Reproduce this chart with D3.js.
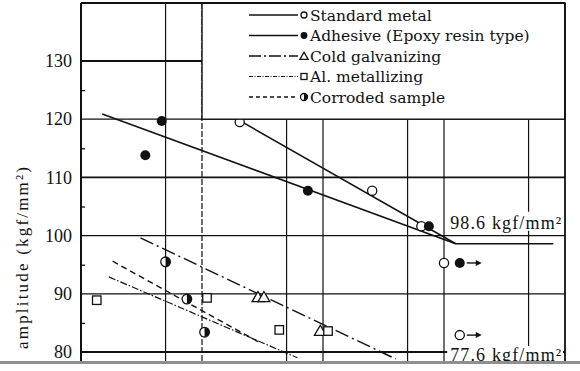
<!DOCTYPE html>
<html><head><meta charset="utf-8">
<script src="https://cdn.jsdelivr.net/npm/d3@7"></script>
<style>body{margin:0;background:#fff} svg{display:block}
.ser{font-family:'Liberation Serif','Times New Roman',Times,serif}
.ser2{font-family:'DejaVu Serif','Liberation Serif',serif}</style>
</head><body>
<svg id="c" width="580" height="371"></svg>
<script>
// ---- data ----
const yTicks = [80, 90, 100, 110, 120, 130];
const yMinor = [85, 95, 105, 115, 125];
const xGrid = [1e5, 2e5, 1e6, 2e6, 1e7, 2e7, 1e8];
const seriesNames = ["Standard metal", "Adhesive (Epoxy resin type)", "Cold galvanizing", "Al. metallizing", "Corroded sample"];
const standardPts = [[4.1e5, 119.5], [5.1e6, 107.7], [1.3e7, 101.6], [2.0e7, 95.3]];
const standardRunout = [[2.7e7, 82.9]];
const adhesivePts = [[6.8e4, 113.8], [9.3e4, 119.7], [1.5e6, 107.7], [1.5e7, 101.6]];
const adhesiveRunout = [[2.7e7, 95.3]];
const coldPts = [[5.8e5, 89.4], [6.5e5, 89.4], [1.9e6, 83.6]];
const alPts = [[2.7e4, 88.9], [2.2e5, 89.3], [8.7e5, 83.8], [2.2e6, 83.6]];
const corrodedPts = [[1.0e5, 95.5], [1.5e5, 89.1], [2.1e5, 83.4]];
const standardLine = [[2.5e5, 122.3], [2.5e7, 98.6]];
const adhesiveLine = [[3.0e4, 120.9], [2.5e7, 98.6]];
const limitLine = [[2.5e7, 98.6], [1.6e8, 98.6]];
const coldLine = [[6.2e4, 99.6], [8.0e6, 78.8]];
const alLine = [[3.4e4, 92.9], [1.23e6, 79.0]];
const corrodedLine = [[3.65e4, 95.6], [5.9e5, 81.7]];
const limitLabels = [{N: 2.25e7, S: 98.6, text: "98.6 kgf/mm\u00B2"}, {N: 2.25e7, S: 77.6, text: "77.6 kgf/mm\u00B2"}];
const yTitle = "amplitude  (kgf/mm\u00B2)";

// ---- layout ----
const svg = d3.select("#c");
const L = 81, R = 565, T = 3, B = 361;
const x = d3.scaleLog().domain([2e4, 2e8]).range([L, R]);
const y = d3.scaleLinear().domain([80, 140]).range([352, 352 - 60 * 5.82]);

svg.append("defs").append("clipPath").attr("id", "plot")
  .append("rect").attr("x", L).attr("y", T).attr("width", R - L).attr("height", B - T);

const g = svg.append("g").attr("clip-path", "url(#plot)");
const ink = "#111";

// grid
g.selectAll(".vg").data(xGrid).enter().append("line")
  .attr("x1", d => x(d)).attr("x2", d => x(d)).attr("y1", T).attr("y2", B)
  .attr("stroke", ink).attr("stroke-width", 1.2)
  .attr("stroke-dasharray", d => d === 2e5 ? "6,2" : null);
g.selectAll(".hg").data(yTicks).enter().append("line")
  .attr("x1", L).attr("x2", R).attr("y1", d => y(d)).attr("y2", d => y(d))
  .attr("stroke", ink).attr("stroke-width", d => (d === 110 || d === 130 || d === 80) ? 1.8 : 1.3);

// legend box (covers grid)
const lg = svg.append("g");
lg.append("rect").attr("x", x(2e5)).attr("y", T).attr("width", R - x(2e5)).attr("height", y(120) - T)
  .attr("fill", "#fff").attr("stroke", ink).attr("stroke-width", 1.4);

// label backgrounds
limitLabels.forEach((d, i) => {
  const by = i === 0 ? y(d.S) - 32 : y(d.S) - 20;
  g.append("rect").attr("x", x(d.N) - 3).attr("y", by).attr("width", R - x(d.N) + 1).attr("height", i === 0 ? 19 : 20)
    .attr("fill", "#fff");
});

// lines
const line = d3.line().x(d => x(d[0])).y(d => y(d[1]));
const lineDefs = [
  [standardLine, null, 1.5],
  [adhesiveLine, null, 1.5],
  [limitLine, null, 1.5],
  [coldLine, "14,4,2,4", 1.4],
  [alLine, "7,2,1.5,2", 1.2],
  [corrodedLine, "6,4", 1.4]
];
lineDefs.forEach(([data, dash, w]) => {
  g.append("path").attr("d", line(data)).attr("fill", "none").attr("stroke", ink)
    .attr("stroke-width", w).attr("stroke-dasharray", dash);
});

// markers
function openCircle(sel, cx, cy, r) {
  sel.append("circle").attr("cx", cx).attr("cy", cy).attr("r", r).attr("fill", "#fff").attr("stroke", ink).attr("stroke-width", 1.3);
}
function fullCircle(sel, cx, cy, r) {
  sel.append("circle").attr("cx", cx).attr("cy", cy).attr("r", r).attr("fill", ink);
}
function triangle(sel, cx, cy, s) {
  sel.append("path").attr("d", d3.symbol(d3.symbolTriangle, s)()).attr("transform", `translate(${cx},${cy + 1})`)
    .attr("fill", "#fff").attr("stroke", ink).attr("stroke-width", 1.3);
}
function square(sel, cx, cy, s) {
  sel.append("rect").attr("x", cx - s / 2).attr("y", cy - s / 2).attr("width", s).attr("height", s)
    .attr("fill", "#fff").attr("stroke", ink).attr("stroke-width", 1.3);
}
function halfCircle(sel, cx, cy, r) {
  sel.append("circle").attr("cx", cx).attr("cy", cy).attr("r", r).attr("fill", "#fff").attr("stroke", ink).attr("stroke-width", 1.3);
  sel.append("path").attr("d", `M${cx},${cy - r}A${r},${r} 0 0 1 ${cx},${cy + r}Z`).attr("fill", ink);
}
function arrow(sel, cx, cy) {
  sel.append("line").attr("x1", cx + 7).attr("x2", cx + 19).attr("y1", cy).attr("y2", cy).attr("stroke", ink).attr("stroke-width", 1.4);
  sel.append("path").attr("d", `M${cx + 22},${cy}L${cx + 16},${cy - 3}L${cx + 16},${cy + 3}Z`).attr("fill", ink);
}
standardPts.forEach(d => openCircle(g, x(d[0]), y(d[1]), 4.6));
standardRunout.forEach(d => { openCircle(g, x(d[0]), y(d[1]), 4.6); arrow(g, x(d[0]), y(d[1])); });
adhesivePts.forEach(d => fullCircle(g, x(d[0]), y(d[1]), 5));
adhesiveRunout.forEach(d => { fullCircle(g, x(d[0]), y(d[1]), 5); arrow(g, x(d[0]), y(d[1])); });
coldPts.forEach(d => triangle(g, x(d[0]), y(d[1]), 60));
alPts.forEach(d => square(g, x(d[0]), y(d[1]), 8.5));
corrodedPts.forEach(d => halfCircle(g, x(d[0]), y(d[1]), 4.8));

// limit labels
limitLabels.forEach((d, i) => {
  g.append("text").attr("class", "ser").attr("x", x(d.N)).attr("y", i === 0 ? y(d.S) - 15 : y(d.S) - 5)
    .attr("font-size", 18).attr("fill", ink)
    .attr("textLength", 111).attr("lengthAdjust", "spacing").text(d.text);
});

// frame
svg.append("line").attr("x1", L).attr("x2", R).attr("y1", T).attr("y2", T).attr("stroke", ink).attr("stroke-width", 2);
svg.append("line").attr("x1", R).attr("x2", R).attr("y1", T).attr("y2", B).attr("stroke", ink).attr("stroke-width", 1.8);

// y axis
const ax = svg.append("g").attr("transform", `translate(${L},0)`)
  .call(d3.axisLeft(y).tickValues(yTicks).tickSize(0).tickPadding(9).tickFormat(d3.format("d")));
ax.attr("font-family", null).attr("font-size", null);
ax.select(".domain").remove();
ax.selectAll("text").attr("class", "ser").attr("font-size", 18).attr("fill", ink);
const axm = svg.append("g").attr("transform", `translate(${L},0)`)
  .call(d3.axisRight(y).tickValues(yMinor).tickSize(4).tickFormat(""));
axm.select(".domain").remove();
axm.selectAll("line").attr("stroke", ink).attr("stroke-width", 1.3);
svg.append("line").attr("x1", L).attr("x2", L).attr("y1", T).attr("y2", B).attr("stroke", ink).attr("stroke-width", 2);

// y title
svg.append("text").attr("class", "ser").attr("transform", `translate(28,258) rotate(-90)`).attr("text-anchor", "middle")
  .attr("font-size", 17).attr("fill", ink)
  .attr("textLength", 182).attr("lengthAdjust", "spacing").text(yTitle);

// legend entries
const legY = [15, 35.5, 56, 76.5, 97];
const legDash = [null, null, "12,3,2,3", "4,1.5,1,1.5", "4,3"];
const legW = [1.5, 1.5, 1.5, 1.1, 1.4];
const legMark = [openCircle, fullCircle, triangle, square, halfCircle];
const legSize = [3, 3.4, 30, 6, 3.5];
seriesNames.forEach((name, i) => {
  const yy = legY[i];
  lg.append("line").attr("x1", 249).attr("x2", 298).attr("y1", yy).attr("y2", yy)
    .attr("stroke", ink).attr("stroke-width", legW[i]).attr("stroke-dasharray", legDash[i]);
  legMark[i](lg, 304, yy, legSize[i]);
  lg.append("text").attr("class", "ser2").attr("x", 310).attr("y", yy + 5.5)
    .attr("font-size", 15.5).attr("fill", ink).text(name);
});

// bottom scan edge
svg.append("rect").attr("x", 0).attr("y", B).attr("width", 580).attr("height", 3).attr("fill", "#8f8f8f");
</script>
</body></html>
